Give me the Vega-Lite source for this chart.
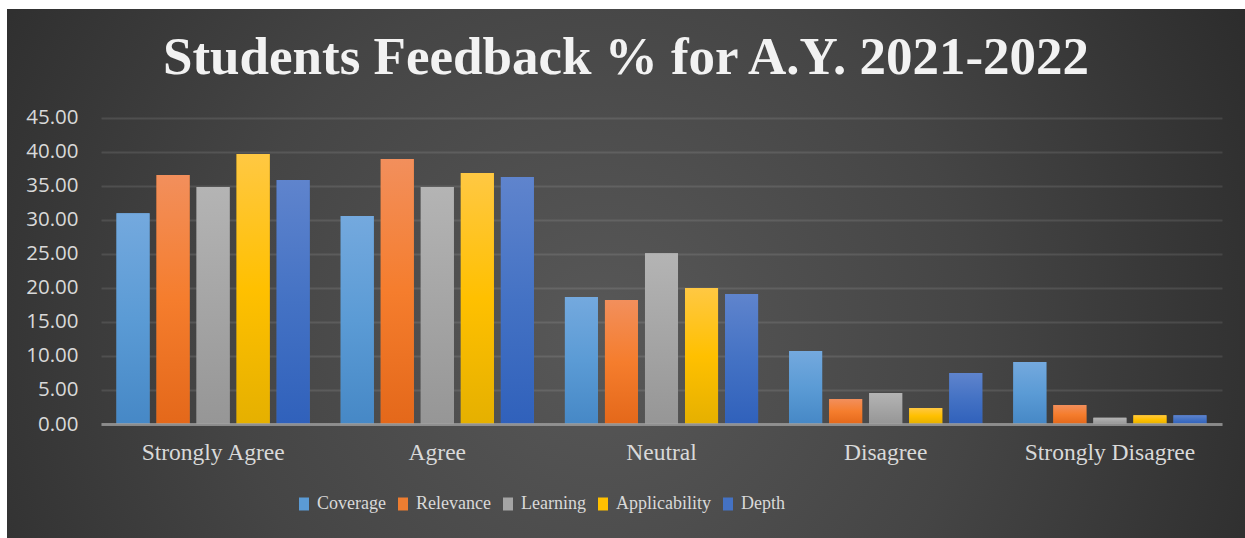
{
  "$schema": "https://vega.github.io/schema/vega-lite/v6.json",
  "width": 1238,
  "height": 529,
  "autosize": "none",
  "padding": {"left": 7, "top": 9, "right": 0, "bottom": 0},
  "background": "#ffffff",
  "title": {
    "text": "Students Feedback % for A.Y. 2021-2022",
    "font": "Liberation Serif",
    "fontSize": 53,
    "fontWeight": "bold",
    "color": "#f2f2f2",
    "anchor": "middle",
    "baseline": "alphabetic",
    "offset": -118
  },
  "data": {
    "values": [
      {"response": "Strongly Agree", "aspect": "Coverage", "pct": 30.95},
      {"response": "Strongly Agree", "aspect": "Relevance", "pct": 36.56},
      {"response": "Strongly Agree", "aspect": "Learning", "pct": 34.8},
      {"response": "Strongly Agree", "aspect": "Applicability", "pct": 39.65},
      {"response": "Strongly Agree", "aspect": "Depth", "pct": 35.83},
      {"response": "Agree", "aspect": "Coverage", "pct": 30.54},
      {"response": "Agree", "aspect": "Relevance", "pct": 38.9},
      {"response": "Agree", "aspect": "Learning", "pct": 34.8},
      {"response": "Agree", "aspect": "Applicability", "pct": 36.86},
      {"response": "Agree", "aspect": "Depth", "pct": 36.27},
      {"response": "Neutral", "aspect": "Coverage", "pct": 18.65},
      {"response": "Neutral", "aspect": "Relevance", "pct": 18.2},
      {"response": "Neutral", "aspect": "Learning", "pct": 25.08},
      {"response": "Neutral", "aspect": "Applicability", "pct": 19.97},
      {"response": "Neutral", "aspect": "Depth", "pct": 19.09},
      {"response": "Disagree", "aspect": "Coverage", "pct": 10.7},
      {"response": "Disagree", "aspect": "Relevance", "pct": 3.67},
      {"response": "Disagree", "aspect": "Learning", "pct": 4.55},
      {"response": "Disagree", "aspect": "Applicability", "pct": 2.35},
      {"response": "Disagree", "aspect": "Depth", "pct": 7.5},
      {"response": "Strongly Disagree", "aspect": "Coverage", "pct": 9.1},
      {"response": "Strongly Disagree", "aspect": "Relevance", "pct": 2.8},
      {"response": "Strongly Disagree", "aspect": "Learning", "pct": 0.9},
      {"response": "Strongly Disagree", "aspect": "Applicability", "pct": 1.3},
      {"response": "Strongly Disagree", "aspect": "Depth", "pct": 1.3}
    ]
  },
  "encoding": {
    "x": {
      "field": "response",
      "type": "nominal",
      "sort": ["Strongly Agree", "Agree", "Neutral", "Disagree", "Strongly Disagree"],
      "scale": {"range": [94, 1215], "paddingInner": 0, "paddingOuter": 0},
      "axis": {
        "title": null,
        "orient": "bottom",
        "offset": -114,
        "labelAngle": 0,
        "ticks": false,
        "tickSize": 0,
        "labelPadding": 16,
        "labelFont": "Liberation Serif",
        "labelFontSize": 23.5,
        "labelColor": "#d9d9d9",
        "domainColor": "#a0a0a0",
        "domainOpacity": 0.75,
        "domainWidth": 3,
        "grid": false,
        "zindex": 1
      }
    },
    "xOffset": {
      "field": "aspect",
      "type": "nominal",
      "sort": ["Coverage", "Relevance", "Learning", "Applicability", "Depth"],
      "scale": {"paddingInner": 0.175, "paddingOuter": 0.3875}
    },
    "y": {
      "field": "pct",
      "type": "quantitative",
      "scale": {"domain": [0, 45], "range": [415, 108.5], "nice": false, "zero": true},
      "axis": {
        "title": null,
        "orient": "left",
        "offset": -94,
        "values": [0, 5, 10, 15, 20, 25, 30, 35, 40, 45],
        "format": ".2f",
        "domain": false,
        "ticks": false,
        "tickSize": 0,
        "labelPadding": 23,
        "labelFont": "Open Sans",
        "labelFontSize": 20.5,
        "labelColor": "#d9d9d9",
        "grid": true,
        "gridColor": "#ffffff",
        "gridOpacity": 0.1,
        "gridWidth": 2
      }
    }
  },
  "layer": [
    {
      "mark": {"type": "bar"},
      "encoding": {
        "color": {
          "field": "aspect",
          "type": "nominal",
          "sort": ["Coverage", "Relevance", "Learning", "Applicability", "Depth"],
          "scale": {
            "domain": ["Coverage", "Relevance", "Learning", "Applicability", "Depth"],
            "range": ["#5b9bd5", "#ed7d31", "#a5a5a5", "#ffc000", "#4472c4"]
          },
          "legend": {
            "title": null,
            "orient": "none",
            "legendX": 288,
            "legendY": 486,
            "direction": "horizontal",
            "padding": 0,
            "symbolType": "M-0.77,-1H0.77V1H-0.77Z",
            "symbolSize": 169,
            "symbolStrokeWidth": 0,
            "labelFont": "Liberation Serif",
            "labelFontSize": 18,
            "labelColor": "#d9d9d9",
            "labelOffset": 4,
            "columnPadding": 8
          }
        }
      }
    },
    {
      "mark": {"type": "bar"},
      "encoding": {
        "fill": {
          "condition": [
            {"test": "datum.aspect === 'Coverage'", "value": {"gradient": "linear", "x1": 0, "y1": 0, "x2": 0, "y2": 1, "stops": [{"offset": 0, "color": "#74a9de"}, {"offset": 0.5, "color": "#5b9bd5"}, {"offset": 1, "color": "#4688c6"}]}},
            {"test": "datum.aspect === 'Relevance'", "value": {"gradient": "linear", "x1": 0, "y1": 0, "x2": 0, "y2": 1, "stops": [{"offset": 0, "color": "#f28f5c"}, {"offset": 0.5, "color": "#f57d2d"}, {"offset": 1, "color": "#e4681a"}]}},
            {"test": "datum.aspect === 'Learning'", "value": {"gradient": "linear", "x1": 0, "y1": 0, "x2": 0, "y2": 1, "stops": [{"offset": 0, "color": "#b4b4b4"}, {"offset": 0.5, "color": "#a5a5a5"}, {"offset": 1, "color": "#969696"}]}},
            {"test": "datum.aspect === 'Applicability'", "value": {"gradient": "linear", "x1": 0, "y1": 0, "x2": 0, "y2": 1, "stops": [{"offset": 0, "color": "#ffc843"}, {"offset": 0.5, "color": "#ffc000"}, {"offset": 1, "color": "#e5b000"}]}}
          ],
          "value": {"gradient": "linear", "x1": 0, "y1": 0, "x2": 0, "y2": 1, "stops": [{"offset": 0, "color": "#5f84cd"}, {"offset": 0.5, "color": "#4472c4"}, {"offset": 1, "color": "#3061bb"}]}
        }
      }
    }
  ],
  "config": {
    "view": {
      "stroke": null,
      "fill": {"gradient": "radial", "x1": 0.48, "y1": 0.55, "r1": 0, "x2": 0.48, "y2": 0.55, "r2": 0.75, "stops": [{"offset": 0, "color": "#585858"}, {"offset": 0.4, "color": "#454545"}, {"offset": 1, "color": "#1e1e1e"}]}
    }
  }
}
